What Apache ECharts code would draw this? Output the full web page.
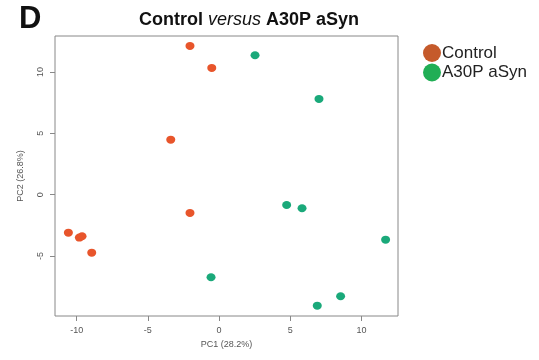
<!DOCTYPE html>
<html>
<head>
<meta charset="utf-8">
<script src="https://cdn.jsdelivr.net/npm/echarts@6/dist/echarts.min.js"></script>
<style>
  html, body { margin: 0; padding: 0; background: #fff; }
  #chart { width: 539px; height: 360px; }
</style>
</head>
<body>
<div id="chart"></div>
<script>
// PC1 / PC2 scores
const controlPC1 = [-2.04, -0.51, -3.39, -2.04, -10.58, -9.81, -9.62, -8.94];
const controlPC2 = [12.12, 10.33, 4.48, -1.49, -3.10, -3.50, -3.39, -4.73];
const a30pPC1 = [2.53, 7.02, 4.75, 5.83, 11.70, -0.56, 8.54, 6.90];
const a30pPC2 = [11.36, 7.80, -0.84, -1.11, -3.67, -6.73, -8.28, -9.05];
const xTicks = [-10, -5, 0, 5, 10];
const yTicks = [-5, 0, 5, 10];
const groupNames = ['Control', 'A30P aSyn'];

const chart = echarts.init(document.getElementById('chart'));

const pairs = (xs, ys) => xs.map((x, i) => [x, ys[i]]);

const axisFont = { fontFamily: 'Liberation Sans, Arial, sans-serif', fontSize: 9, color: '#555' };

const option = {
  animation: false,
  title: [
    {
      text: 'D',
      left: 14,
      top: -1,
      textStyle: { fontFamily: 'Liberation Sans, Arial', fontSize: 31, fontWeight: 'bold', color: '#111' }
    },
    {
      text: '{b|Control }{i|versus}{b| A30P aSyn}',
      left: 244,
      top: 6,
      textAlign: 'center',
      textStyle: {
        rich: {
          b: { fontFamily: 'Liberation Sans, Arial', fontSize: 18, fontWeight: 'bold', color: '#111' },
          i: { fontFamily: 'Liberation Sans, Arial', fontSize: 18, fontStyle: 'italic', fontWeight: 'normal', color: '#111' }
        }
      }
    }
  ],
  legend: {
    orient: 'vertical',
    left: 418,
    top: 39,
    itemWidth: 18,
    itemHeight: 18,
    itemGap: 1.5,
    icon: 'circle',
    textStyle: { fontFamily: 'Liberation Sans, Arial', fontSize: 17, color: '#222', padding: [0, 0, 0, -4] },
    data: [
      { name: groupNames[0], itemStyle: { color: '#c55a2b' } },
      { name: groupNames[1], itemStyle: { color: '#20ae55' } }
    ]
  },
  grid: {
    left: 55, right: 141, top: 36, bottom: 44,
    show: true, borderColor: '#888', borderWidth: 1, backgroundColor: '#fff'
  },
  xAxis: {
    type: 'value',
    min: -11.52,
    max: 12.57,
    name: 'PC1 (28.2%)',
    nameLocation: 'middle',
    nameGap: 22,
    nameTextStyle: axisFont,
    axisLine: { show: false, onZero: false },
    splitLine: { show: false },
    axisTick: { show: true, length: 5, lineStyle: { color: '#888' }, customValues: xTicks },
    axisLabel: { ...axisFont, margin: 10, customValues: xTicks }
  },
  yAxis: {
    type: 'value',
    min: -9.89,
    max: 12.93,
    name: 'PC2 (26.8%)',
    nameLocation: 'middle',
    nameRotate: 90,
    nameGap: 30,
    nameTextStyle: axisFont,
    axisLine: { show: false, onZero: false },
    splitLine: { show: false },
    axisTick: { show: true, length: 5, lineStyle: { color: '#888' }, customValues: yTicks },
    axisLabel: { ...axisFont, rotate: 90, margin: 10, customValues: yTicks }
  },
  series: [
    {
      name: groupNames[0],
      type: 'scatter',
      symbol: 'circle',
      symbolSize: [9, 8],
      itemStyle: { color: '#e8552b', opacity: 1 },
      data: pairs(controlPC1, controlPC2)
    },
    {
      name: groupNames[1],
      type: 'scatter',
      symbol: 'circle',
      symbolSize: [9, 8],
      itemStyle: { color: '#1aa97a', opacity: 1 },
      data: pairs(a30pPC1, a30pPC2)
    }
  ]
};

chart.setOption(option);
</script>
</body>
</html>
